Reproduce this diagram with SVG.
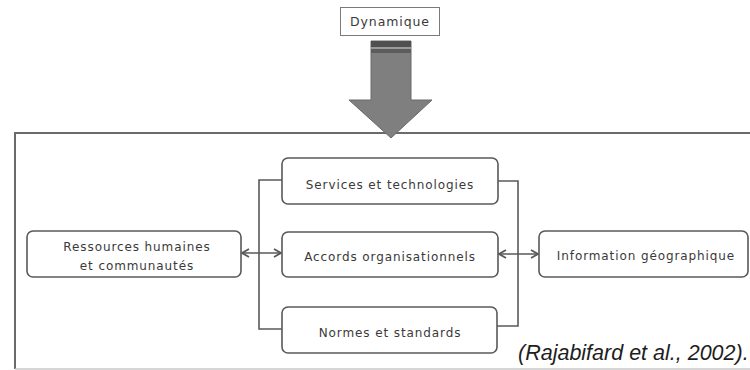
<svg xmlns="http://www.w3.org/2000/svg" width="750" height="370" viewBox="0 0 750 370">
<style>
.box{fill:#fff;stroke:#595959;stroke-width:1.6}
.t{font-family:"DejaVu Sans",sans-serif;font-size:12px;letter-spacing:0.9px;fill:#3a3a3a;text-anchor:middle}
.c{fill:none;stroke:#595959;stroke-width:1.6}
</style>
<defs>
<marker id="ah" viewBox="0 0 10 10" refX="9" refY="5" markerWidth="10" markerHeight="10" markerUnits="userSpaceOnUse" orient="auto-start-reverse">
<path d="M2,1 L9,5 L2,9" fill="none" stroke="#595959" stroke-width="1.8"/>
</marker>
</defs>
<rect width="750" height="370" fill="#fff"/>
<g id="frame">
<path d="M15,369 L15,133 L750,133" fill="none" stroke="#6a6a6a" stroke-width="2"/>
<line x1="15" y1="369" x2="750" y2="369" stroke="#c8c8c8" stroke-width="1.5"/>
</g>
<g id="dynamique">
<rect x="340.5" y="7.5" width="99" height="28" fill="#fff" stroke="#7a7a7a" stroke-width="1"/>
<text class="t" x="390" y="26" style="font-size:12.5px">Dynamique</text>
</g>
<g id="big-arrow">
<polygon points="371,41 411,41 411,100 432,100 391,138 349,100 371,100" fill="#7f7f7f" stroke="#6a6a6a" stroke-width="1"/>
<rect x="371" y="41" width="40" height="6" fill="#505050"/>
<rect x="371" y="47" width="40" height="2" fill="#9a9a9a"/>
<rect x="371" y="49" width="40" height="4" fill="#5c5c5c"/>
</g>
<g id="connectors">
<path class="c" d="M282,180 L259,180 L259,329 L282,329"/>
<path class="c" d="M498,181 L518,181 L518,326 L497,326"/>
<line class="c" x1="242" y1="253" x2="281" y2="253" marker-start="url(#ah)" marker-end="url(#ah)"/>
<line class="c" x1="499" y1="254" x2="538" y2="254" marker-start="url(#ah)" marker-end="url(#ah)"/>
</g>
<g id="ressources">
<rect class="box" x="27" y="231" width="214" height="46" rx="6"/>
<text class="t" x="137" y="251">Ressources humaines</text>
<text class="t" x="137" y="270">et communautés</text>
</g>
<g id="services">
<rect class="box" x="282" y="158" width="216" height="46" rx="6"/>
<text class="t" x="390" y="189">Services et technologies</text>
</g>
<g id="accords">
<rect class="box" x="282" y="232" width="216" height="45" rx="6"/>
<text class="t" x="390" y="261">Accords organisationnels</text>
</g>
<g id="normes">
<rect class="box" x="282" y="307" width="215" height="46" rx="6"/>
<text class="t" x="390" y="337">Normes et standards</text>
</g>
<g id="information">
<rect class="box" x="539" y="231" width="209" height="46" rx="6"/>
<text class="t" x="646" y="260">Information géographique</text>
</g>
<text x="518" y="360" font-family="Liberation Sans, sans-serif" font-size="21.5" font-style="italic" fill="#1e1e1e">(Rajabifard et al., 2002).</text>
</svg>
